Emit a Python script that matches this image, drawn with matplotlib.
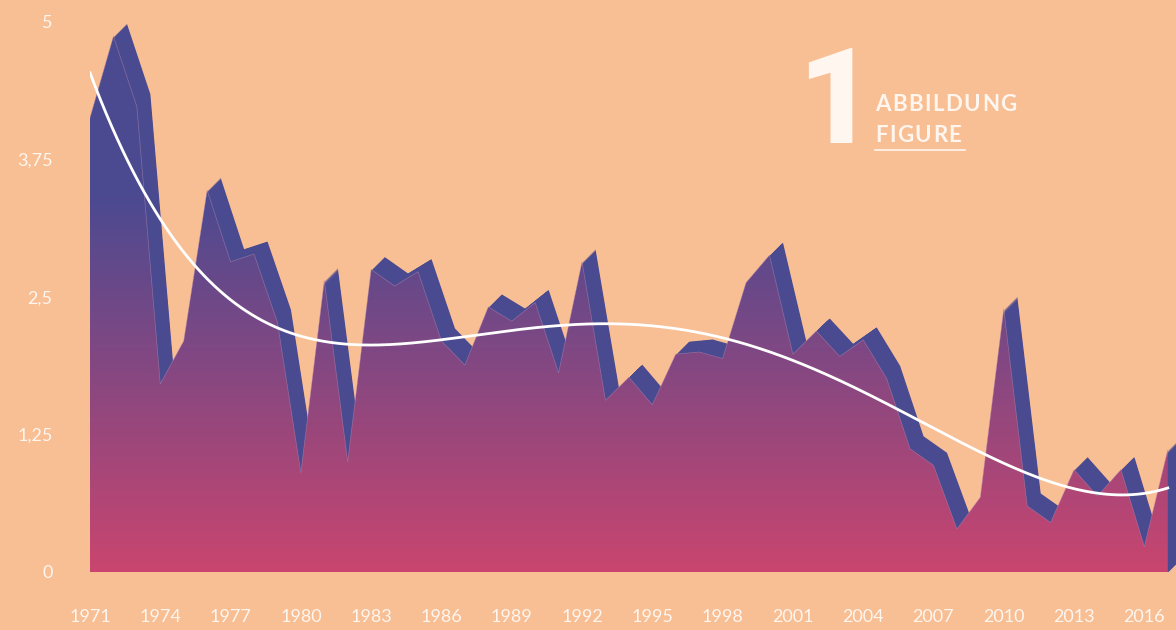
import numpy as np
import matplotlib
matplotlib.use("Agg")
import matplotlib.pyplot as plt
from matplotlib import transforms
from matplotlib.colors import LinearSegmentedColormap
from matplotlib.patches import Polygon
from matplotlib.lines import Line2D

# ---------------- data ----------------
years = list(range(1971, 2018))
values = [4.13, 4.87, 4.23, 1.71, 2.10, 3.47, 2.82, 2.89, 2.27, 0.90,
          2.65, 1.00, 2.75, 2.60, 2.73, 2.10, 1.88, 2.41, 2.28, 2.45,
          1.81, 2.82, 1.56, 1.77, 1.52, 1.98, 2.00, 1.94, 2.63, 2.88,
          1.98, 2.19, 1.96, 2.11, 1.76, 1.12, 0.97, 0.39, 0.68, 2.39,
          0.60, 0.45, 0.93, 0.69, 0.93, 0.23, 1.11]

trend_years = [1971, 1974.06, 1975.5, 1979, 1981, 1983.6, 1987, 1990.8, 1993.3,
               1996.1, 2000.7, 2003.1, 2005.9, 2008.8, 2010.5, 2012.6, 2015.2, 2017]
trend_values = [4.55, 3.15, 2.79, 2.25, 2.10, 2.05, 2.14, 2.23, 2.25,
                2.20, 1.98, 1.75, 1.41, 1.08, 0.94, 0.79, 0.73, 0.745]

xtick_years = list(range(1971, 2017, 3))
ytick_values = [0, 1.25, 2.5, 3.75, 5]
ytick_labels = ["0", "1,25", "2,5", "3,75", "5"]

# ---------------- style ----------------
W, H = 1176, 630
BG = "#F8BE94"
DARK = "#4A4A91"
TXT = "#FFF6EF"

fig = plt.figure(figsize=(W / 100, H / 100), dpi=100)
fig.patch.set_facecolor(BG)

ax = fig.add_axes([90 / W, 58 / H, (W - 90) / W, 566.5 / H])
ax.set_facecolor(BG)
for s in ax.spines.values():
    s.set_visible(False)

x_end = 1971 + (W - 90) / 23.43

# extruded back layer (offset copies up/right)
for k in np.arange(0.5, 13.01, 0.5):
    tr = transforms.offset_copy(ax.transData, fig=fig, x=k, y=k, units="dots")
    ax.fill_between(years, values, 0, transform=tr, color=DARK, lw=0,
                    zorder=1, clip_on=False)

# gradient front area
cmap = LinearSegmentedColormap.from_list(
    "g", [(0, "#C9456F"), (0.66, "#4C4A91"), (1, "#4B4A91")])
verts = np.column_stack([years + [years[-1], years[0]], values + [0, 0]])
poly = Polygon(verts, closed=True, facecolor="none", edgecolor="none",
               transform=ax.transData)
ax.add_patch(poly)
grad = np.linspace(0, 5.15, 600).reshape(-1, 1)
im = ax.imshow(grad, extent=[years[0], years[-1], 0, 5.15], origin="lower",
               aspect="auto", cmap=cmap, vmin=0, vmax=5.15, zorder=2,
               interpolation="bilinear")
im.set_clip_path(poly)
ax.plot(years, values, color="#b88aad", lw=0.5, alpha=0.55, zorder=3)

t = (np.array(trend_years) - 1994) / 23.0
coef = np.polyfit(t, trend_values, 6)
xd = np.linspace(trend_years[0], trend_years[-1], 400)
ax.plot(xd, np.polyval(coef, (xd - 1994) / 23.0), color="white", lw=2.0,
        zorder=4)

ax.set_xlim(1971, x_end)
ax.set_ylim(0, 5.15)

ax.set_xticks(xtick_years)
ax.set_xticklabels([str(y) for y in xtick_years])
ax.set_yticks(ytick_values)
ax.set_yticklabels(ytick_labels)
ax.tick_params(axis="x", length=0, pad=27, labelcolor=TXT, labelsize=13)
ax.tick_params(axis="y", length=0, pad=27, labelcolor=TXT, labelsize=13)
for lab in ax.get_xticklabels() + ax.get_yticklabels():
    lab.set_fontfamily(["Lato", "DejaVu Sans"])
    lab.set_fontweight("normal")

# ---------------- title block ----------------
fig.text(797 / W, 1 - 143 / H, "1", fontsize=96, fontweight="black",
         family=["Roboto", "DejaVu Sans"], color=TXT, ha="left", va="baseline")

renderer = fig.canvas.get_renderer()


def spaced(x_px, y_px, s, size, gap):
    x = x_px
    for ch in s:
        tt = fig.text(x / W, 1 - y_px / H, ch, fontsize=size, fontweight="bold",
                      family=["Lato", "DejaVu Sans"], color=TXT, ha="left",
                      va="baseline")
        bb = tt.get_window_extent(renderer)
        x += bb.width + gap


spaced(875, 111, "ABBILDUNG", 16, 1.5)
spaced(875, 142, "FIGURE", 16, 1.5)
fig.add_artist(Line2D([875 / W, 965 / W], [1 - 149.5 / H] * 2, color=TXT, lw=1.2))

fig.savefig("out.png", dpi=100, facecolor=BG)
